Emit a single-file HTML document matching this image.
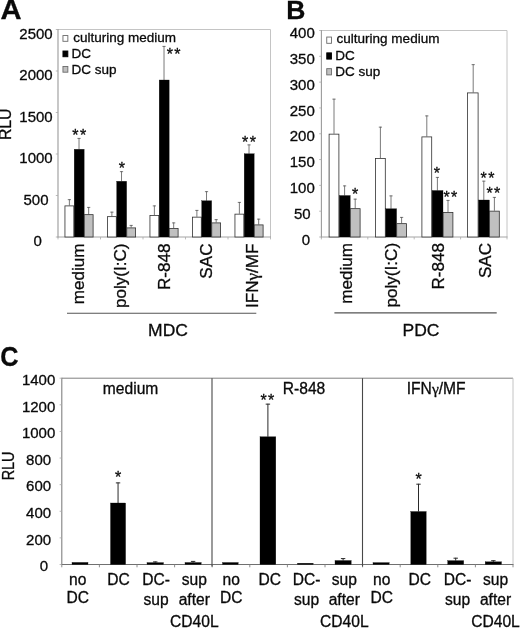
<!DOCTYPE html>
<html><head><meta charset="utf-8"><title>Figure</title>
<style>html,body{margin:0;padding:0;background:#fff;}svg{display:block;filter:blur(0.4px);}</style></head><body>
<svg width="520" height="628" viewBox="0 0 520 628">
<rect width="520" height="628" fill="#fff"/>
<g fill="#0a0a0a" stroke="#0a0a0a" stroke-width="0.3">
<line x1="58.00" y1="29.50" x2="270.50" y2="29.50" stroke="#c4c4c4" stroke-width="1"/>
<line x1="270.50" y1="29.50" x2="270.50" y2="237.00" stroke="#c4c4c4" stroke-width="1"/>
<line x1="58.00" y1="29.00" x2="58.00" y2="237.50" stroke="#9a9a9a" stroke-width="1.1"/>
<line x1="57.50" y1="237.00" x2="271.00" y2="237.00" stroke="#9a9a9a" stroke-width="0.9"/>
<line x1="58.00" y1="237.00" x2="58.00" y2="239.40" stroke="#aaa" stroke-width="0.8"/>
<line x1="100.50" y1="237.00" x2="100.50" y2="239.40" stroke="#aaa" stroke-width="0.8"/>
<line x1="143.00" y1="237.00" x2="143.00" y2="239.40" stroke="#aaa" stroke-width="0.8"/>
<line x1="185.50" y1="237.00" x2="185.50" y2="239.40" stroke="#aaa" stroke-width="0.8"/>
<line x1="228.00" y1="237.00" x2="228.00" y2="239.40" stroke="#aaa" stroke-width="0.8"/>
<line x1="270.50" y1="237.00" x2="270.50" y2="239.40" stroke="#aaa" stroke-width="0.8"/>
<line x1="55.80" y1="237.00" x2="58.00" y2="237.00" stroke="#aaa" stroke-width="0.8"/>
<text x="37.70" y="246.00" font-size="15" text-anchor="middle" font-weight="normal" font-family="Liberation Sans, sans-serif">0</text>
<line x1="55.80" y1="195.50" x2="58.00" y2="195.50" stroke="#aaa" stroke-width="0.8"/>
<text x="36.00" y="204.50" font-size="15" text-anchor="middle" font-weight="normal" font-family="Liberation Sans, sans-serif">500</text>
<line x1="55.80" y1="154.00" x2="58.00" y2="154.00" stroke="#aaa" stroke-width="0.8"/>
<text x="36.00" y="163.00" font-size="15" text-anchor="middle" font-weight="normal" font-family="Liberation Sans, sans-serif">1000</text>
<line x1="55.80" y1="112.50" x2="58.00" y2="112.50" stroke="#aaa" stroke-width="0.8"/>
<text x="36.00" y="121.50" font-size="15" text-anchor="middle" font-weight="normal" font-family="Liberation Sans, sans-serif">1500</text>
<line x1="55.80" y1="71.00" x2="58.00" y2="71.00" stroke="#aaa" stroke-width="0.8"/>
<text x="36.00" y="80.00" font-size="15" text-anchor="middle" font-weight="normal" font-family="Liberation Sans, sans-serif">2000</text>
<line x1="55.80" y1="29.50" x2="58.00" y2="29.50" stroke="#aaa" stroke-width="0.8"/>
<text x="36.00" y="38.50" font-size="15" text-anchor="middle" font-weight="normal" font-family="Liberation Sans, sans-serif">2500</text>
<line x1="69.38" y1="199.25" x2="69.38" y2="205.50" stroke="#585858" stroke-width="0.8"/>
<line x1="67.78" y1="199.65" x2="70.97" y2="199.65" stroke="#585858" stroke-width="0.8"/>
<line x1="79.03" y1="138.00" x2="79.03" y2="149.25" stroke="#585858" stroke-width="0.8"/>
<line x1="77.43" y1="138.40" x2="80.62" y2="138.40" stroke="#585858" stroke-width="0.8"/>
<line x1="88.67" y1="207.00" x2="88.67" y2="214.25" stroke="#585858" stroke-width="0.8"/>
<line x1="87.08" y1="207.40" x2="90.27" y2="207.40" stroke="#585858" stroke-width="0.8"/>
<rect x="64.95" y="205.90" width="8.85" height="31.10" fill="#ffffff" stroke="#303030" stroke-width="0.8"/>
<rect x="74.20" y="149.25" width="9.95" height="87.75" fill="#000000"/>
<rect x="84.25" y="214.65" width="8.85" height="22.35" fill="#c0c0c0" stroke="#303030" stroke-width="0.8"/>
<line x1="111.88" y1="211.75" x2="111.88" y2="216.25" stroke="#585858" stroke-width="0.8"/>
<line x1="110.28" y1="212.15" x2="113.47" y2="212.15" stroke="#585858" stroke-width="0.8"/>
<line x1="121.53" y1="171.25" x2="121.53" y2="181.25" stroke="#585858" stroke-width="0.8"/>
<line x1="119.93" y1="171.65" x2="123.12" y2="171.65" stroke="#585858" stroke-width="0.8"/>
<line x1="131.17" y1="225.00" x2="131.17" y2="227.50" stroke="#585858" stroke-width="0.8"/>
<line x1="129.57" y1="225.40" x2="132.77" y2="225.40" stroke="#585858" stroke-width="0.8"/>
<rect x="107.45" y="216.65" width="8.85" height="20.35" fill="#ffffff" stroke="#303030" stroke-width="0.8"/>
<rect x="116.70" y="181.25" width="9.95" height="55.75" fill="#000000"/>
<rect x="126.75" y="227.90" width="8.85" height="9.10" fill="#c0c0c0" stroke="#303030" stroke-width="0.8"/>
<line x1="154.38" y1="205.50" x2="154.38" y2="215.00" stroke="#585858" stroke-width="0.8"/>
<line x1="152.78" y1="205.90" x2="155.97" y2="205.90" stroke="#585858" stroke-width="0.8"/>
<line x1="164.03" y1="46.00" x2="164.03" y2="80.00" stroke="#585858" stroke-width="0.8"/>
<line x1="162.43" y1="46.40" x2="165.62" y2="46.40" stroke="#585858" stroke-width="0.8"/>
<line x1="173.68" y1="222.50" x2="173.68" y2="228.00" stroke="#585858" stroke-width="0.8"/>
<line x1="172.08" y1="222.90" x2="175.28" y2="222.90" stroke="#585858" stroke-width="0.8"/>
<rect x="149.95" y="215.40" width="8.85" height="21.60" fill="#ffffff" stroke="#303030" stroke-width="0.8"/>
<rect x="159.20" y="80.00" width="9.95" height="157.00" fill="#000000"/>
<rect x="169.25" y="228.40" width="8.85" height="8.60" fill="#c0c0c0" stroke="#303030" stroke-width="0.8"/>
<line x1="196.88" y1="210.00" x2="196.88" y2="216.75" stroke="#585858" stroke-width="0.8"/>
<line x1="195.28" y1="210.40" x2="198.47" y2="210.40" stroke="#585858" stroke-width="0.8"/>
<line x1="206.53" y1="191.25" x2="206.53" y2="200.75" stroke="#585858" stroke-width="0.8"/>
<line x1="204.93" y1="191.65" x2="208.12" y2="191.65" stroke="#585858" stroke-width="0.8"/>
<line x1="216.18" y1="219.25" x2="216.18" y2="222.50" stroke="#585858" stroke-width="0.8"/>
<line x1="214.58" y1="219.65" x2="217.78" y2="219.65" stroke="#585858" stroke-width="0.8"/>
<rect x="192.45" y="217.15" width="8.85" height="19.85" fill="#ffffff" stroke="#303030" stroke-width="0.8"/>
<rect x="201.70" y="200.75" width="9.95" height="36.25" fill="#000000"/>
<rect x="211.75" y="222.90" width="8.85" height="14.10" fill="#c0c0c0" stroke="#303030" stroke-width="0.8"/>
<line x1="239.38" y1="202.00" x2="239.38" y2="213.75" stroke="#585858" stroke-width="0.8"/>
<line x1="237.78" y1="202.40" x2="240.97" y2="202.40" stroke="#585858" stroke-width="0.8"/>
<line x1="249.03" y1="144.50" x2="249.03" y2="153.75" stroke="#585858" stroke-width="0.8"/>
<line x1="247.43" y1="144.90" x2="250.62" y2="144.90" stroke="#585858" stroke-width="0.8"/>
<line x1="258.68" y1="218.75" x2="258.68" y2="224.50" stroke="#585858" stroke-width="0.8"/>
<line x1="257.07" y1="219.15" x2="260.28" y2="219.15" stroke="#585858" stroke-width="0.8"/>
<rect x="234.95" y="214.15" width="8.85" height="22.85" fill="#ffffff" stroke="#303030" stroke-width="0.8"/>
<rect x="244.20" y="153.75" width="9.95" height="83.25" fill="#000000"/>
<rect x="254.25" y="224.90" width="8.85" height="12.10" fill="#c0c0c0" stroke="#303030" stroke-width="0.8"/>
<rect x="62.95" y="35.55" width="4.90" height="5.75" fill="#fff" stroke="#6a6a6a" stroke-width="0.9"/>
<text x="73.20" y="42.10" font-size="13.5" text-anchor="start" font-weight="normal" font-family="Liberation Sans, sans-serif">culturing medium</text>
<rect x="62.95" y="51.00" width="4.90" height="5.75" fill="#000" stroke="#000" stroke-width="0.9"/>
<text x="71.60" y="58.35" font-size="13.5" text-anchor="start" font-weight="normal" font-family="Liberation Sans, sans-serif">DC</text>
<rect x="62.95" y="66.45" width="4.90" height="5.75" fill="#c0c0c0" stroke="#6a6a6a" stroke-width="0.9"/>
<text x="71.60" y="73.80" font-size="13.5" text-anchor="start" font-weight="normal" font-family="Liberation Sans, sans-serif">DC sup</text>
<text x="75.45" y="141.20" font-size="16" text-anchor="middle" font-weight="normal" font-family="Liberation Sans, sans-serif">*</text>
<text x="83.05" y="141.20" font-size="16" text-anchor="middle" font-weight="normal" font-family="Liberation Sans, sans-serif">*</text>
<text x="121.75" y="174.20" font-size="16" text-anchor="middle" font-weight="normal" font-family="Liberation Sans, sans-serif">*</text>
<text x="169.80" y="60.20" font-size="16" text-anchor="middle" font-weight="normal" font-family="Liberation Sans, sans-serif">*</text>
<text x="177.40" y="60.20" font-size="16" text-anchor="middle" font-weight="normal" font-family="Liberation Sans, sans-serif">*</text>
<text x="245.20" y="147.70" font-size="16" text-anchor="middle" font-weight="normal" font-family="Liberation Sans, sans-serif">*</text>
<text x="252.80" y="147.70" font-size="16" text-anchor="middle" font-weight="normal" font-family="Liberation Sans, sans-serif">*</text>
<text x="0" y="0" font-size="16" text-anchor="end" font-weight="normal" font-family="Liberation Sans, sans-serif" transform="translate(83.90 243.50) rotate(-90) scale(1.07 1)">medium</text>
<text x="0" y="0" font-size="16" text-anchor="end" font-weight="normal" font-family="Liberation Sans, sans-serif" transform="translate(126.30 243.50) rotate(-90) scale(1.07 1)">poly(I:C)</text>
<text x="0" y="0" font-size="16" text-anchor="end" font-weight="normal" font-family="Liberation Sans, sans-serif" transform="translate(170.00 243.50) rotate(-90) scale(1.07 1)">R-848</text>
<text x="0" y="0" font-size="16" text-anchor="end" font-weight="normal" font-family="Liberation Sans, sans-serif" transform="translate(212.00 243.50) rotate(-90) scale(1.07 1)">SAC</text>
<text x="0" y="0" font-size="16" text-anchor="end" font-weight="normal" font-family="Liberation Sans, sans-serif" transform="translate(257.50 243.50) rotate(-90) scale(1.07 1)">IFN<tspan font-family="Liberation Serif, serif">γ</tspan>/MF</text>
<line x1="67.00" y1="313.20" x2="256.30" y2="313.20" stroke="#555" stroke-width="1.1"/>
<text x="0" y="0" font-size="17" text-anchor="middle" font-weight="normal" font-family="Liberation Sans, sans-serif" transform="translate(168.00 336.30) scale(1.03 1)">MDC</text>
<text x="0" y="0" font-size="15.8" text-anchor="middle" font-weight="normal" font-family="Liberation Sans, sans-serif" transform="translate(11.20 124.30) rotate(-90) scale(1.0 1)">RLU</text>
<text x="0" y="0" font-size="27.5" text-anchor="start" font-weight="bold" font-family="Liberation Sans, sans-serif" transform="translate(0.60 18.90) scale(1.06 1)">A</text>
<line x1="321.40" y1="30.50" x2="507.00" y2="30.50" stroke="#c4c4c4" stroke-width="1"/>
<line x1="507.00" y1="30.50" x2="507.00" y2="237.00" stroke="#c4c4c4" stroke-width="1"/>
<line x1="321.40" y1="30.00" x2="321.40" y2="237.50" stroke="#9a9a9a" stroke-width="1.1"/>
<line x1="320.90" y1="237.00" x2="507.50" y2="237.00" stroke="#9a9a9a" stroke-width="0.9"/>
<line x1="321.40" y1="237.00" x2="321.40" y2="239.40" stroke="#aaa" stroke-width="0.8"/>
<line x1="367.80" y1="237.00" x2="367.80" y2="239.40" stroke="#aaa" stroke-width="0.8"/>
<line x1="414.20" y1="237.00" x2="414.20" y2="239.40" stroke="#aaa" stroke-width="0.8"/>
<line x1="460.60" y1="237.00" x2="460.60" y2="239.40" stroke="#aaa" stroke-width="0.8"/>
<line x1="507.00" y1="237.00" x2="507.00" y2="239.40" stroke="#aaa" stroke-width="0.8"/>
<line x1="319.20" y1="237.00" x2="321.40" y2="237.00" stroke="#aaa" stroke-width="0.8"/>
<text x="305.90" y="244.70" font-size="15" text-anchor="middle" font-weight="normal" font-family="Liberation Sans, sans-serif">0</text>
<line x1="319.20" y1="211.19" x2="321.40" y2="211.19" stroke="#aaa" stroke-width="0.8"/>
<text x="302.30" y="218.89" font-size="15" text-anchor="middle" font-weight="normal" font-family="Liberation Sans, sans-serif">50</text>
<line x1="319.20" y1="185.38" x2="321.40" y2="185.38" stroke="#aaa" stroke-width="0.8"/>
<text x="302.30" y="193.08" font-size="15" text-anchor="middle" font-weight="normal" font-family="Liberation Sans, sans-serif">100</text>
<line x1="319.20" y1="159.56" x2="321.40" y2="159.56" stroke="#aaa" stroke-width="0.8"/>
<text x="302.30" y="167.26" font-size="15" text-anchor="middle" font-weight="normal" font-family="Liberation Sans, sans-serif">150</text>
<line x1="319.20" y1="133.75" x2="321.40" y2="133.75" stroke="#aaa" stroke-width="0.8"/>
<text x="302.30" y="141.45" font-size="15" text-anchor="middle" font-weight="normal" font-family="Liberation Sans, sans-serif">200</text>
<line x1="319.20" y1="107.94" x2="321.40" y2="107.94" stroke="#aaa" stroke-width="0.8"/>
<text x="302.30" y="115.64" font-size="15" text-anchor="middle" font-weight="normal" font-family="Liberation Sans, sans-serif">250</text>
<line x1="319.20" y1="82.12" x2="321.40" y2="82.12" stroke="#aaa" stroke-width="0.8"/>
<text x="302.30" y="89.83" font-size="15" text-anchor="middle" font-weight="normal" font-family="Liberation Sans, sans-serif">300</text>
<line x1="319.20" y1="56.31" x2="321.40" y2="56.31" stroke="#aaa" stroke-width="0.8"/>
<text x="302.30" y="64.01" font-size="15" text-anchor="middle" font-weight="normal" font-family="Liberation Sans, sans-serif">350</text>
<line x1="319.20" y1="30.50" x2="321.40" y2="30.50" stroke="#aaa" stroke-width="0.8"/>
<text x="302.30" y="38.20" font-size="15" text-anchor="middle" font-weight="normal" font-family="Liberation Sans, sans-serif">400</text>
<line x1="334.00" y1="98.75" x2="334.00" y2="133.75" stroke="#585858" stroke-width="0.8"/>
<line x1="332.40" y1="99.15" x2="335.60" y2="99.15" stroke="#585858" stroke-width="0.8"/>
<line x1="344.60" y1="185.50" x2="344.60" y2="195.50" stroke="#585858" stroke-width="0.8"/>
<line x1="343.00" y1="185.90" x2="346.20" y2="185.90" stroke="#585858" stroke-width="0.8"/>
<line x1="355.20" y1="198.75" x2="355.20" y2="208.25" stroke="#585858" stroke-width="0.8"/>
<line x1="353.60" y1="199.15" x2="356.80" y2="199.15" stroke="#585858" stroke-width="0.8"/>
<rect x="329.10" y="134.15" width="9.80" height="102.85" fill="#ffffff" stroke="#303030" stroke-width="0.8"/>
<rect x="339.30" y="195.50" width="10.90" height="41.50" fill="#000000"/>
<rect x="350.30" y="208.65" width="9.80" height="28.35" fill="#c0c0c0" stroke="#303030" stroke-width="0.8"/>
<line x1="380.40" y1="126.75" x2="380.40" y2="158.00" stroke="#585858" stroke-width="0.8"/>
<line x1="378.80" y1="127.15" x2="382.00" y2="127.15" stroke="#585858" stroke-width="0.8"/>
<line x1="391.00" y1="195.50" x2="391.00" y2="208.75" stroke="#585858" stroke-width="0.8"/>
<line x1="389.40" y1="195.90" x2="392.60" y2="195.90" stroke="#585858" stroke-width="0.8"/>
<line x1="401.60" y1="217.00" x2="401.60" y2="223.25" stroke="#585858" stroke-width="0.8"/>
<line x1="400.00" y1="217.40" x2="403.20" y2="217.40" stroke="#585858" stroke-width="0.8"/>
<rect x="375.50" y="158.40" width="9.80" height="78.60" fill="#ffffff" stroke="#303030" stroke-width="0.8"/>
<rect x="385.70" y="208.75" width="10.90" height="28.25" fill="#000000"/>
<rect x="396.70" y="223.65" width="9.80" height="13.35" fill="#c0c0c0" stroke="#303030" stroke-width="0.8"/>
<line x1="426.80" y1="115.50" x2="426.80" y2="136.50" stroke="#585858" stroke-width="0.8"/>
<line x1="425.20" y1="115.90" x2="428.40" y2="115.90" stroke="#585858" stroke-width="0.8"/>
<line x1="437.40" y1="177.00" x2="437.40" y2="190.50" stroke="#585858" stroke-width="0.8"/>
<line x1="435.80" y1="177.40" x2="439.00" y2="177.40" stroke="#585858" stroke-width="0.8"/>
<line x1="448.00" y1="200.00" x2="448.00" y2="212.00" stroke="#585858" stroke-width="0.8"/>
<line x1="446.40" y1="200.40" x2="449.60" y2="200.40" stroke="#585858" stroke-width="0.8"/>
<rect x="421.90" y="136.90" width="9.80" height="100.10" fill="#ffffff" stroke="#303030" stroke-width="0.8"/>
<rect x="432.10" y="190.50" width="10.90" height="46.50" fill="#000000"/>
<rect x="443.10" y="212.40" width="9.80" height="24.60" fill="#c0c0c0" stroke="#303030" stroke-width="0.8"/>
<line x1="473.20" y1="64.25" x2="473.20" y2="92.50" stroke="#585858" stroke-width="0.8"/>
<line x1="471.60" y1="64.65" x2="474.80" y2="64.65" stroke="#585858" stroke-width="0.8"/>
<line x1="483.80" y1="180.75" x2="483.80" y2="200.00" stroke="#585858" stroke-width="0.8"/>
<line x1="482.20" y1="181.15" x2="485.40" y2="181.15" stroke="#585858" stroke-width="0.8"/>
<line x1="494.40" y1="197.00" x2="494.40" y2="210.75" stroke="#585858" stroke-width="0.8"/>
<line x1="492.80" y1="197.40" x2="496.00" y2="197.40" stroke="#585858" stroke-width="0.8"/>
<rect x="467.40" y="92.90" width="10.70" height="144.10" fill="#ffffff" stroke="#303030" stroke-width="0.8"/>
<rect x="478.50" y="200.00" width="10.90" height="37.00" fill="#000000"/>
<rect x="489.50" y="211.15" width="9.80" height="25.85" fill="#c0c0c0" stroke="#303030" stroke-width="0.8"/>
<rect x="326.75" y="37.05" width="4.70" height="6.25" fill="#fff" stroke="#6a6a6a" stroke-width="0.9"/>
<text x="336.60" y="43.30" font-size="13.5" text-anchor="start" font-weight="normal" font-family="Liberation Sans, sans-serif">culturing medium</text>
<rect x="326.75" y="52.85" width="4.70" height="6.25" fill="#000" stroke="#000" stroke-width="0.9"/>
<text x="335.30" y="60.00" font-size="13.5" text-anchor="start" font-weight="normal" font-family="Liberation Sans, sans-serif">DC</text>
<rect x="326.75" y="68.65" width="4.70" height="6.25" fill="#c0c0c0" stroke="#6a6a6a" stroke-width="0.9"/>
<text x="335.30" y="75.80" font-size="13.5" text-anchor="start" font-weight="normal" font-family="Liberation Sans, sans-serif">DC sup</text>
<text x="355.00" y="200.20" font-size="16" text-anchor="middle" font-weight="normal" font-family="Liberation Sans, sans-serif">*</text>
<text x="436.75" y="179.20" font-size="16" text-anchor="middle" font-weight="normal" font-family="Liberation Sans, sans-serif">*</text>
<text x="446.60" y="202.70" font-size="16" text-anchor="middle" font-weight="normal" font-family="Liberation Sans, sans-serif">*</text>
<text x="454.20" y="202.70" font-size="16" text-anchor="middle" font-weight="normal" font-family="Liberation Sans, sans-serif">*</text>
<text x="483.70" y="183.70" font-size="16" text-anchor="middle" font-weight="normal" font-family="Liberation Sans, sans-serif">*</text>
<text x="491.30" y="183.70" font-size="16" text-anchor="middle" font-weight="normal" font-family="Liberation Sans, sans-serif">*</text>
<text x="489.60" y="199.45" font-size="16" text-anchor="middle" font-weight="normal" font-family="Liberation Sans, sans-serif">*</text>
<text x="497.20" y="199.45" font-size="16" text-anchor="middle" font-weight="normal" font-family="Liberation Sans, sans-serif">*</text>
<text x="0" y="0" font-size="16" text-anchor="end" font-weight="normal" font-family="Liberation Sans, sans-serif" transform="translate(352.20 242.90) rotate(-90) scale(1.07 1)">medium</text>
<text x="0" y="0" font-size="16" text-anchor="end" font-weight="normal" font-family="Liberation Sans, sans-serif" transform="translate(397.30 242.90) rotate(-90) scale(1.07 1)">poly(I:C)</text>
<text x="0" y="0" font-size="16" text-anchor="end" font-weight="normal" font-family="Liberation Sans, sans-serif" transform="translate(443.80 242.90) rotate(-90) scale(1.07 1)">R-848</text>
<text x="0" y="0" font-size="16" text-anchor="end" font-weight="normal" font-family="Liberation Sans, sans-serif" transform="translate(490.50 242.90) rotate(-90) scale(1.07 1)">SAC</text>
<line x1="334.40" y1="312.90" x2="496.70" y2="312.90" stroke="#555" stroke-width="1.1"/>
<text x="0" y="0" font-size="17" text-anchor="middle" font-weight="normal" font-family="Liberation Sans, sans-serif" transform="translate(421.00 336.00) scale(1.03 1)">PDC</text>
<text x="286.20" y="18.90" font-size="26.5" text-anchor="start" font-weight="bold" font-family="Liberation Sans, sans-serif">B</text>
<line x1="61.80" y1="378.20" x2="513.00" y2="378.20" stroke="#808080" stroke-width="1"/>
<line x1="513.00" y1="378.20" x2="513.00" y2="564.50" stroke="#c4c4c4" stroke-width="1"/>
<line x1="61.80" y1="377.70" x2="61.80" y2="565.00" stroke="#808080" stroke-width="1.1"/>
<line x1="61.30" y1="564.50" x2="513.50" y2="564.50" stroke="#707070" stroke-width="1.0"/>
<line x1="61.80" y1="564.50" x2="61.80" y2="567.30" stroke="#808080" stroke-width="0.9"/>
<line x1="99.40" y1="564.50" x2="99.40" y2="567.30" stroke="#808080" stroke-width="0.9"/>
<line x1="137.00" y1="564.50" x2="137.00" y2="567.30" stroke="#808080" stroke-width="0.9"/>
<line x1="174.60" y1="564.50" x2="174.60" y2="567.30" stroke="#808080" stroke-width="0.9"/>
<line x1="212.20" y1="564.50" x2="212.20" y2="567.30" stroke="#808080" stroke-width="0.9"/>
<line x1="249.80" y1="564.50" x2="249.80" y2="567.30" stroke="#808080" stroke-width="0.9"/>
<line x1="287.40" y1="564.50" x2="287.40" y2="567.30" stroke="#808080" stroke-width="0.9"/>
<line x1="325.00" y1="564.50" x2="325.00" y2="567.30" stroke="#808080" stroke-width="0.9"/>
<line x1="362.60" y1="564.50" x2="362.60" y2="567.30" stroke="#808080" stroke-width="0.9"/>
<line x1="400.20" y1="564.50" x2="400.20" y2="567.30" stroke="#808080" stroke-width="0.9"/>
<line x1="437.80" y1="564.50" x2="437.80" y2="567.30" stroke="#808080" stroke-width="0.9"/>
<line x1="475.40" y1="564.50" x2="475.40" y2="567.30" stroke="#808080" stroke-width="0.9"/>
<line x1="513.00" y1="564.50" x2="513.00" y2="567.30" stroke="#808080" stroke-width="0.9"/>
<line x1="212.00" y1="378.20" x2="212.00" y2="566.50" stroke="#484848" stroke-width="1.1"/>
<line x1="362.50" y1="378.20" x2="362.50" y2="566.50" stroke="#484848" stroke-width="1.1"/>
<line x1="59.60" y1="564.50" x2="61.80" y2="564.50" stroke="#aaa" stroke-width="0.8"/>
<text x="44.00" y="571.30" font-size="15" text-anchor="middle" font-weight="normal" font-family="Liberation Sans, sans-serif">0</text>
<line x1="59.60" y1="537.89" x2="61.80" y2="537.89" stroke="#aaa" stroke-width="0.8"/>
<text x="38.60" y="544.69" font-size="15" text-anchor="middle" font-weight="normal" font-family="Liberation Sans, sans-serif">200</text>
<line x1="59.60" y1="511.27" x2="61.80" y2="511.27" stroke="#aaa" stroke-width="0.8"/>
<text x="38.60" y="518.07" font-size="15" text-anchor="middle" font-weight="normal" font-family="Liberation Sans, sans-serif">400</text>
<line x1="59.60" y1="484.66" x2="61.80" y2="484.66" stroke="#aaa" stroke-width="0.8"/>
<text x="38.60" y="491.46" font-size="15" text-anchor="middle" font-weight="normal" font-family="Liberation Sans, sans-serif">600</text>
<line x1="59.60" y1="458.04" x2="61.80" y2="458.04" stroke="#aaa" stroke-width="0.8"/>
<text x="38.60" y="464.84" font-size="15" text-anchor="middle" font-weight="normal" font-family="Liberation Sans, sans-serif">800</text>
<line x1="59.60" y1="431.43" x2="61.80" y2="431.43" stroke="#aaa" stroke-width="0.8"/>
<text x="38.60" y="438.23" font-size="15" text-anchor="middle" font-weight="normal" font-family="Liberation Sans, sans-serif">1000</text>
<line x1="59.60" y1="404.81" x2="61.80" y2="404.81" stroke="#aaa" stroke-width="0.8"/>
<text x="38.60" y="411.61" font-size="15" text-anchor="middle" font-weight="normal" font-family="Liberation Sans, sans-serif">1200</text>
<line x1="59.60" y1="378.20" x2="61.80" y2="378.20" stroke="#aaa" stroke-width="0.8"/>
<text x="38.60" y="385.00" font-size="15" text-anchor="middle" font-weight="normal" font-family="Liberation Sans, sans-serif">1400</text>
<rect x="72.00" y="562.40" width="16.00" height="2.10" fill="#000"/>
<line x1="118.05" y1="482.50" x2="118.05" y2="503.00" stroke="#2a2a2a" stroke-width="1.0"/>
<line x1="115.85" y1="482.90" x2="120.25" y2="482.90" stroke="#2a2a2a" stroke-width="1.0"/>
<rect x="110.50" y="503.00" width="15.10" height="61.50" fill="#000"/>
<line x1="155.25" y1="561.50" x2="155.25" y2="562.60" stroke="#2a2a2a" stroke-width="1.0"/>
<line x1="153.05" y1="561.90" x2="157.45" y2="561.90" stroke="#2a2a2a" stroke-width="1.0"/>
<rect x="147.00" y="562.60" width="16.50" height="1.90" fill="#000"/>
<line x1="193.10" y1="561.00" x2="193.10" y2="562.50" stroke="#2a2a2a" stroke-width="1.0"/>
<line x1="190.90" y1="561.40" x2="195.30" y2="561.40" stroke="#2a2a2a" stroke-width="1.0"/>
<rect x="185.00" y="562.50" width="16.20" height="2.00" fill="#000"/>
<rect x="222.50" y="562.50" width="15.70" height="2.00" fill="#000"/>
<line x1="267.90" y1="403.75" x2="267.90" y2="436.75" stroke="#2a2a2a" stroke-width="1.0"/>
<line x1="265.70" y1="404.15" x2="270.10" y2="404.15" stroke="#2a2a2a" stroke-width="1.0"/>
<rect x="260.00" y="436.75" width="15.80" height="127.75" fill="#000"/>
<rect x="297.50" y="563.20" width="15.70" height="1.30" fill="#000"/>
<line x1="343.10" y1="558.20" x2="343.10" y2="560.50" stroke="#2a2a2a" stroke-width="1.0"/>
<line x1="340.90" y1="558.60" x2="345.30" y2="558.60" stroke="#2a2a2a" stroke-width="1.0"/>
<rect x="335.00" y="560.50" width="16.20" height="4.00" fill="#000"/>
<rect x="373.00" y="562.60" width="16.20" height="1.90" fill="#000"/>
<line x1="418.50" y1="483.80" x2="418.50" y2="511.50" stroke="#2a2a2a" stroke-width="1.0"/>
<line x1="416.30" y1="484.20" x2="420.70" y2="484.20" stroke="#2a2a2a" stroke-width="1.0"/>
<rect x="410.80" y="511.50" width="15.40" height="53.00" fill="#000"/>
<line x1="455.70" y1="557.80" x2="455.70" y2="560.60" stroke="#2a2a2a" stroke-width="1.0"/>
<line x1="453.50" y1="558.20" x2="457.90" y2="558.20" stroke="#2a2a2a" stroke-width="1.0"/>
<rect x="447.70" y="560.60" width="16.00" height="3.90" fill="#000"/>
<line x1="493.35" y1="560.30" x2="493.35" y2="561.80" stroke="#2a2a2a" stroke-width="1.0"/>
<line x1="491.15" y1="560.70" x2="495.55" y2="560.70" stroke="#2a2a2a" stroke-width="1.0"/>
<rect x="485.20" y="561.80" width="16.30" height="2.70" fill="#000"/>
<text x="118.00" y="483.20" font-size="16" text-anchor="middle" font-weight="normal" font-family="Liberation Sans, sans-serif">*</text>
<text x="263.60" y="405.70" font-size="16" text-anchor="middle" font-weight="normal" font-family="Liberation Sans, sans-serif">*</text>
<text x="271.20" y="405.70" font-size="16" text-anchor="middle" font-weight="normal" font-family="Liberation Sans, sans-serif">*</text>
<text x="418.50" y="485.20" font-size="16" text-anchor="middle" font-weight="normal" font-family="Liberation Sans, sans-serif">*</text>
<text x="130.60" y="394.30" font-size="15.6" text-anchor="middle" font-weight="normal" font-family="Liberation Sans, sans-serif">medium</text>
<text x="304.00" y="394.30" font-size="15.6" text-anchor="middle" font-weight="normal" font-family="Liberation Sans, sans-serif">R-848</text>
<text x="436.2" y="393.9" font-size="15.6" text-anchor="middle" font-family="Liberation Sans, sans-serif">IFN<tspan font-family="Liberation Serif, serif">γ</tspan>/MF</text>
<text x="77.80" y="585.00" font-size="15.6" text-anchor="middle" font-weight="normal" font-family="Liberation Sans, sans-serif">no</text>
<text x="77.80" y="602.80" font-size="15.6" text-anchor="middle" font-weight="normal" font-family="Liberation Sans, sans-serif">DC</text>
<text x="231.30" y="585.00" font-size="15.6" text-anchor="middle" font-weight="normal" font-family="Liberation Sans, sans-serif">no</text>
<text x="231.30" y="602.80" font-size="15.6" text-anchor="middle" font-weight="normal" font-family="Liberation Sans, sans-serif">DC</text>
<text x="381.80" y="585.00" font-size="15.6" text-anchor="middle" font-weight="normal" font-family="Liberation Sans, sans-serif">no</text>
<text x="381.80" y="602.80" font-size="15.6" text-anchor="middle" font-weight="normal" font-family="Liberation Sans, sans-serif">DC</text>
<text x="118.40" y="585.20" font-size="15.6" text-anchor="middle" font-weight="normal" font-family="Liberation Sans, sans-serif">DC</text>
<text x="269.80" y="585.20" font-size="15.6" text-anchor="middle" font-weight="normal" font-family="Liberation Sans, sans-serif">DC</text>
<text x="419.70" y="585.20" font-size="15.6" text-anchor="middle" font-weight="normal" font-family="Liberation Sans, sans-serif">DC</text>
<text x="156.00" y="585.20" font-size="15.6" text-anchor="middle" font-weight="normal" font-family="Liberation Sans, sans-serif">DC-</text>
<text x="156.00" y="605.00" font-size="15.6" text-anchor="middle" font-weight="normal" font-family="Liberation Sans, sans-serif">sup</text>
<text x="306.50" y="585.20" font-size="15.6" text-anchor="middle" font-weight="normal" font-family="Liberation Sans, sans-serif">DC-</text>
<text x="306.50" y="605.00" font-size="15.6" text-anchor="middle" font-weight="normal" font-family="Liberation Sans, sans-serif">sup</text>
<text x="457.50" y="585.20" font-size="15.6" text-anchor="middle" font-weight="normal" font-family="Liberation Sans, sans-serif">DC-</text>
<text x="457.50" y="605.00" font-size="15.6" text-anchor="middle" font-weight="normal" font-family="Liberation Sans, sans-serif">sup</text>
<text x="194.30" y="585.20" font-size="15.6" text-anchor="middle" font-weight="normal" font-family="Liberation Sans, sans-serif">sup</text>
<text x="194.30" y="605.00" font-size="15.6" text-anchor="middle" font-weight="normal" font-family="Liberation Sans, sans-serif">after</text>
<text x="194.30" y="627.30" font-size="15.6" text-anchor="middle" font-weight="normal" font-family="Liberation Sans, sans-serif">CD40L</text>
<text x="344.30" y="585.20" font-size="15.6" text-anchor="middle" font-weight="normal" font-family="Liberation Sans, sans-serif">sup</text>
<text x="344.30" y="605.00" font-size="15.6" text-anchor="middle" font-weight="normal" font-family="Liberation Sans, sans-serif">after</text>
<text x="344.30" y="627.30" font-size="15.6" text-anchor="middle" font-weight="normal" font-family="Liberation Sans, sans-serif">CD40L</text>
<text x="495.50" y="585.20" font-size="15.6" text-anchor="middle" font-weight="normal" font-family="Liberation Sans, sans-serif">sup</text>
<text x="495.50" y="605.00" font-size="15.6" text-anchor="middle" font-weight="normal" font-family="Liberation Sans, sans-serif">after</text>
<text x="495.50" y="627.30" font-size="15.6" text-anchor="middle" font-weight="normal" font-family="Liberation Sans, sans-serif">CD40L</text>
<text x="0" y="0" font-size="15.8" text-anchor="middle" font-weight="normal" font-family="Liberation Sans, sans-serif" transform="translate(13.70 466.00) rotate(-90) scale(0.91 1)">RLU</text>
<text x="0" y="0" font-size="27.5" text-anchor="start" font-weight="bold" font-family="Liberation Sans, sans-serif" transform="translate(0.30 366.30) scale(0.92 1)">C</text>
</g></svg></body></html>
